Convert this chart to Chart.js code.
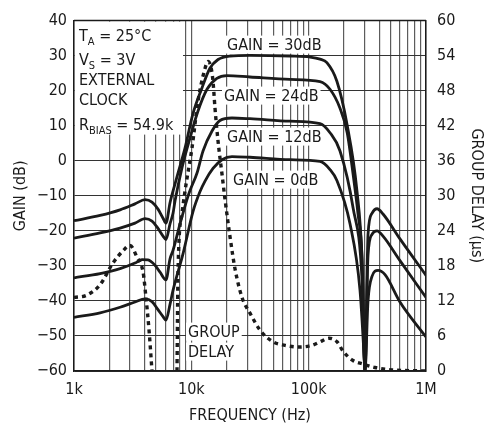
<!DOCTYPE html>
<html>
<head>
<meta charset="utf-8">
<script src="https://cdn.jsdelivr.net/npm/chart.js@4.4.1/dist/chart.umd.min.js"></script>
<style>
  html, body { margin: 0; padding: 0; background: #fff; }
</style>
</head>
<body>
<canvas id="chart" width="484" height="424"></canvas>
<script>
// frequency (Hz), gain (dB)
var gain30 = [
  [1000, -17.1], [1670, -15.6], [2470, -14.0], [3310, -12.3], [4030, -11.1],
  [4620, -11.8], [5200, -13.8], [5740, -16.4], [6080, -17.8], [6580, -12.0],
  [7260, -6.6], [8010, -1.5], [8830, 3.6], [10300, 13.3], [12300, 20.7],
  [14400, 26.4], [16900, 28.9], [21400, 29.9], [31600, 30.1], [69300, 29.9],
  [103000, 29.6], [125000, 29.0], [143000, 28.0], [174000, 22.7], [212000, 10.5],
  [258000, -8.6], [285000, -28.0], [302000, -60], [320500, -21.0], [346600, -15.0],
  [382400, -13.7], [430100, -15.2], [600000, -22.3], [1000000, -32.7]
];
var gain24 = [
  [1000, -22.1], [1670, -20.6], [2470, -19.2], [3310, -17.8], [4030, -16.5],
  [4620, -17.2], [5200, -19.3], [5740, -21.5], [6080, -22.5], [6580, -18.0],
  [6980, -15.0], [7260, -11.5], [8330, -2.0], [9740, 6.5], [11400, 14.2],
  [13600, 20.4], [16500, 23.5], [20100, 24.3], [31600, 23.9], [69300, 23.2],
  [125000, 22.6], [152000, 20.4], [185000, 15.0], [213000, 8.0], [239000, -3.8],
  [263000, -15.0], [285000, -27.6], [302000, -60], [320500, -27.0], [346600, -21.0],
  [382400, -20.0], [430100, -21.5], [600000, -28.5], [1000000, -39.0]
];
var gain12 = [
  [1000, -33.4], [1670, -32.2], [2470, -30.8], [3310, -29.2], [3800, -28.2],
  [4270, -28.3], [4900, -29.8], [5410, -31.8], [6080, -34.0], [6580, -28.0],
  [6980, -25.6], [8010, -18.0], [9190, -11.0], [9740, -8.5], [11180, -3.5],
  [12580, 2.8], [15010, 8.5], [17550, 11.5], [22200, 12.2], [31600, 12.0],
  [69300, 11.3], [125000, 10.6], [152000, 8.0], [185000, 2.8], [239000, -13.4],
  [285000, -34.0], [302000, -60], [320500, -40.0], [346600, -33.0], [389900, -31.3],
  [447400, -32.5], [600000, -40.3], [1000000, -50.3]
];
var gain0 = [
  [1000, -44.7], [1670, -43.4], [2470, -41.8], [3310, -40.3], [4030, -39.4],
  [4620, -40.2], [5200, -42.5], [5740, -44.5], [6080, -45.5], [6580, -41.0],
  [6980, -37.0], [8500, -26.5], [10330, -14.5], [11860, -8.8], [13080, -5.8],
  [15300, -2.2], [18260, 0.3], [22200, 1.2], [31600, 1.0], [69300, 0.3],
  [125000, -0.2], [152000, -2.5], [174400, -5.7], [225100, -18.0], [273900, -37.0],
  [302000, -60]
];
// frequency (Hz), group delay (us)
var groupDelay = [
  [1000, 12.6], [1290, 13.0], [1670, 14.8], [2150, 18.5], [2620, 20.6],
  [3000, 21.5], [3440, 19.5], [3880, 16.9], [4110, 12.5], [4360, 7.0],
  [4620, 0], [6000, null], [7550, 0], [7700, 17.0], [8330, 27.0],
  [8830, 30.8], [10130, 38.2], [11400, 46.2], [13080, 51.8], [13870, 53.0],
  [14710, 52.0], [15300, 49.6], [15910, 45.0], [16880, 39.4], [18260, 33.7],
  [19360, 29.4], [21360, 23.0], [23560, 17.5], [27030, 12.6], [31620, 9.9],
  [38490, 7.0], [49670, 5.0], [62850, 4.4], [82740, 4.1], [106800, 4.4],
  [125000, 5.0], [149100, 5.6], [174400, 5.0], [196200, 3.4], [238700, 1.8],
  [290500, 1.2], [367600, 0.6], [513000, 0.2], [1000000, 0]
];

var xGridValues = [1000, 2000, 3000, 4000, 5000, 6000, 7000, 8000, 9000,
  10000, 20000, 30000, 40000, 50000, 60000, 70000, 80000, 90000,
  100000, 200000, 300000, 400000, 500000, 600000, 700000, 800000, 900000, 1000000];
var xTickValues = [1000, 10000, 100000, 1000000];
var xTickLabels = ['1k', '10k', '100k', '1M'];
var gainTicks = [40, 30, 20, 10, 0, -10, -20, -30, -40, -50, -60];
var delayTicks = [60, 54, 48, 42, 36, 30, 24, 18, 12, 6, 0];

var FONT = '"DejaVu Sans Condensed", "DejaVu Sans", sans-serif';
var INK = '#1a1a1a';

function pts(list) {
  return list.map(function(p) { return { x: p[0], y: p[1] }; });
}
function solid(label, list) {
  return {
    label: label,
    data: pts(list),
    yAxisID: 'y',
    borderColor: INK,
    borderWidth: 2.8,
    pointRadius: 0,
    fill: false,
    cubicInterpolationMode: 'monotone'
  };
}

// text annotations, offsets in px from chart area top-left
var noteLines = [
  { dx: 5, dy: 20, runs: [['T'], ['A', 1], [' = 25°C']] },
  { dx: 5, dy: 44, runs: [['V'], ['S', 1], [' = 3V']] },
  { dx: 5, dy: 64, runs: [['EXTERNAL']] },
  { dx: 5, dy: 84, runs: [['CLOCK']] },
  { dx: 5, dy: 109, runs: [['R'], ['BIAS', 1], [' = 54.9k']] }
];
var gainNotes = [
  { dx: 153, dy: 29, text: 'GAIN = 30dB' },
  { dx: 150, dy: 80, text: 'GAIN = 24dB' },
  { dx: 153, dy: 121, text: 'GAIN = 12dB' },
  { dx: 159, dy: 164, text: 'GAIN = 0dB' },
  { dx: 114, dy: 316, text: 'GROUP' },
  { dx: 114, dy: 336, text: 'DELAY' }
];

var notes = {
  id: 'notes',
  beforeDatasetsDraw: function(chart) {
    var ctx = chart.ctx, a = chart.chartArea;
    ctx.save();
    ctx.fillStyle = '#fff';
    ctx.fillRect(a.left + 1, a.top + 1, 108, 113);
    ctx.font = '16px ' + FONT;
    gainNotes.forEach(function(n) {
      var w = ctx.measureText(n.text).width;
      ctx.fillRect(a.left + n.dx - 2, a.top + n.dy - 14, w + 4, 18);
    });
    // dark frame along the top edge
    ctx.strokeStyle = INK;
    ctx.lineWidth = 1.5;
    ctx.beginPath();
    ctx.moveTo(a.left, a.top);
    ctx.lineTo(a.right, a.top);
    ctx.stroke();
    ctx.restore();
  },
  afterDatasetsDraw: function(chart) {
    var ctx = chart.ctx, a = chart.chartArea;
    ctx.save();
    ctx.fillStyle = INK;
    ctx.textBaseline = 'alphabetic';
    ctx.textAlign = 'left';
    noteLines.forEach(function(l) {
      var x = a.left + l.dx;
      l.runs.forEach(function(r) {
        ctx.font = (r[1] ? '11px ' : '16px ') + FONT;
        ctx.fillText(r[0], x, a.top + l.dy + (r[1] ? 4 : 0));
        x += ctx.measureText(r[0]).width;
      });
    });
    ctx.font = '16px ' + FONT;
    gainNotes.forEach(function(n) {
      ctx.fillText(n.text, a.left + n.dx, a.top + n.dy);
    });
    ctx.restore();
  }
};

Chart.defaults.font.family = FONT;
Chart.defaults.font.size = 16;
Chart.defaults.color = INK;

new Chart(document.getElementById('chart').getContext('2d'), {
  type: 'line',
  data: {
    datasets: [
      solid('GAIN = 30dB', gain30),
      solid('GAIN = 24dB', gain24),
      solid('GAIN = 12dB', gain12),
      solid('GAIN = 0dB', gain0),
      {
        label: 'GROUP DELAY',
        data: pts(groupDelay),
        yAxisID: 'y2',
        borderColor: INK,
        borderWidth: 3.4,
        borderDash: [4, 4],
        pointRadius: 0,
        fill: false,
        spanGaps: false,
        cubicInterpolationMode: 'monotone'
      }
    ]
  },
  options: {
    responsive: false,
    animation: false,
    devicePixelRatio: 1,
    layout: { padding: { top: 19, left: 0, right: 0, bottom: 0 } },
    plugins: { legend: { display: false }, tooltip: { enabled: false } },
    scales: {
      x: {
        type: 'logarithmic',
        position: 'bottom',
        min: 1000,
        max: 1000000,
        afterBuildTicks: function(s) {
          s.ticks = xGridValues.map(function(v) { return { value: v }; });
        },
        afterFit: function(s) { s.height = 53; },
        ticks: {
          autoSkip: false,
          maxRotation: 0,
          padding: 9,
          callback: function(v) {
            var i = xTickValues.indexOf(v);
            return i >= 0 ? xTickLabels[i] : '';
          }
        },
        grid: { color: '#5c5c5c', lineWidth: 1.2, drawTicks: false },
        border: { color: INK, width: 1.5 },
        title: {
          display: true,
          text: 'FREQUENCY (Hz)',
          font: { size: 16, lineHeight: 1.05 },
          padding: { top: 0, bottom: 0 }
        }
      },
      y: {
        type: 'linear',
        position: 'left',
        min: -60,
        max: 40,
        afterBuildTicks: function(s) {
          s.ticks = gainTicks.map(function(v) { return { value: v }; });
        },
        afterFit: function(s) { s.width = 74; },
        ticks: {
          padding: 7,
          callback: function(v) { return v < 0 ? '\u2212' + Math.abs(v) : String(v); }
        },
        grid: { color: '#333', lineWidth: 1, drawTicks: false },
        border: { color: INK, width: 1.5 },
        title: {
          display: true,
          text: 'GAIN (dB)',
          font: { size: 16, lineHeight: 1.2 },
          padding: { top: 11, bottom: 0 }
        }
      },
      y2: {
        type: 'linear',
        position: 'right',
        min: 0,
        max: 60,
        afterBuildTicks: function(s) {
          s.ticks = delayTicks.map(function(v) { return { value: v }; });
        },
        afterFit: function(s) { s.width = 58; },
        ticks: { padding: 11 },
        grid: { drawOnChartArea: false, drawTicks: false },
        border: { color: INK, width: 1.5 },
        title: {
          display: true,
          text: 'GROUP DELAY (\u03bcs)',
          font: { size: 16, lineHeight: 1.0 },
          padding: { top: 0, bottom: 0 }
        }
      }
    }
  },
  plugins: [notes]
});
</script>
</body>
</html>
